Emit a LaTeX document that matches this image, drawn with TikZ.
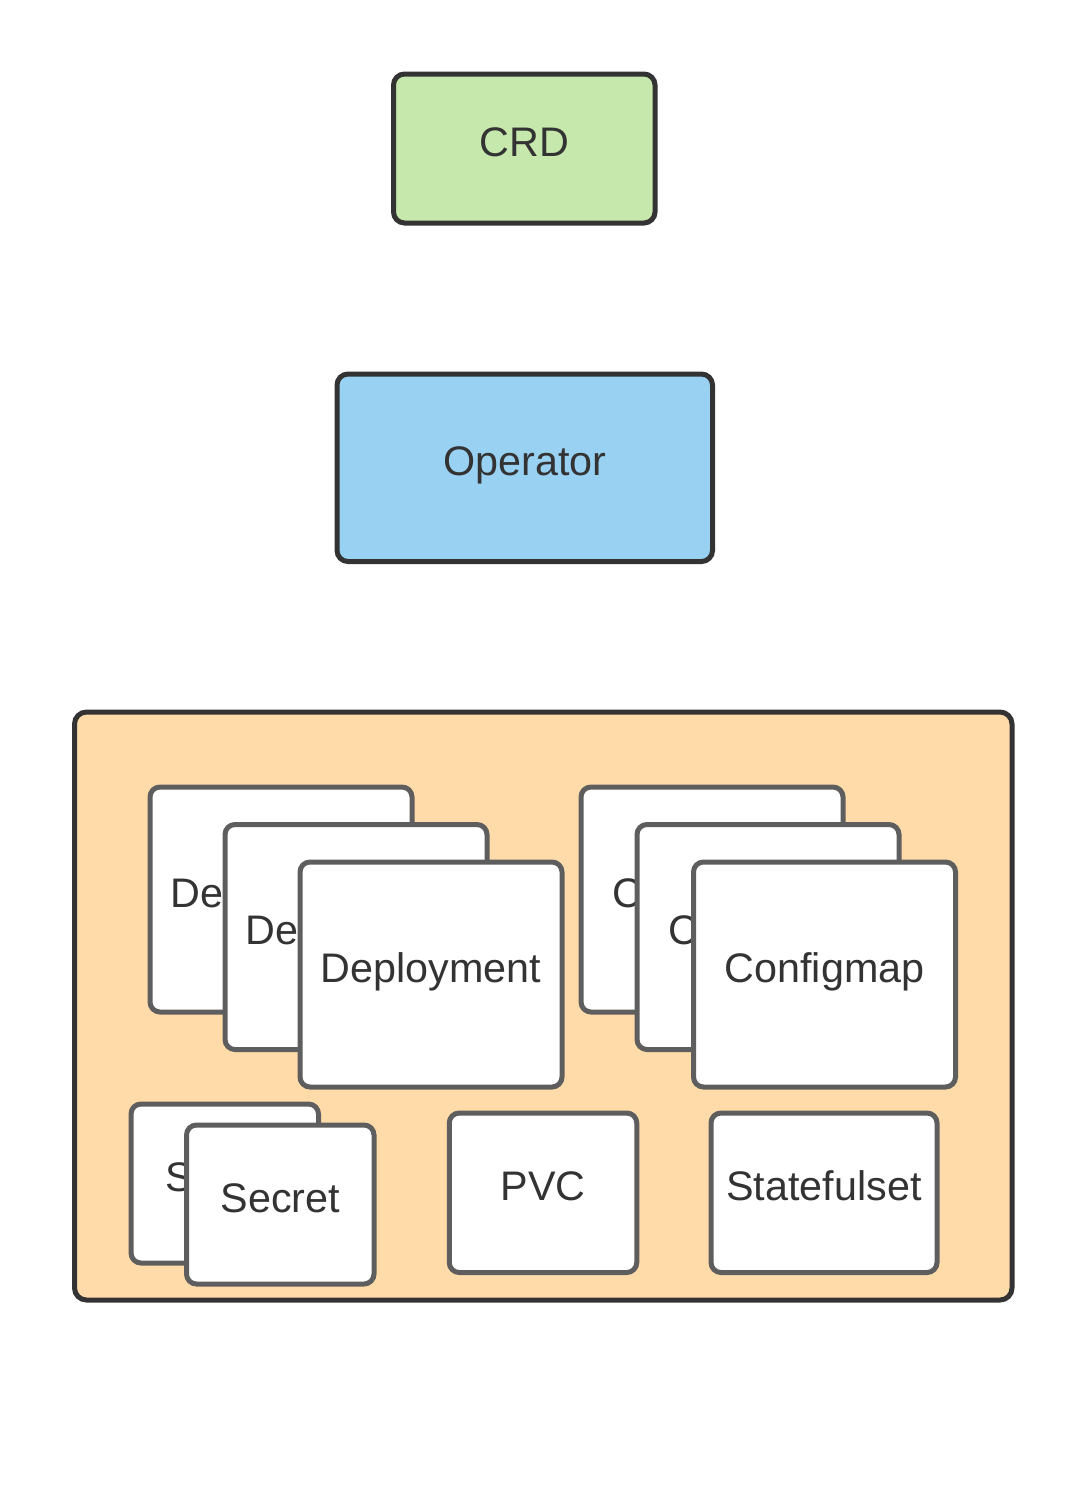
\documentclass[tikz,border=0pt]{standalone}
\usepackage{fontspec}
\setmainfont{Liberation Sans}
\definecolor{ink}{HTML}{333333}
\definecolor{cardline}{HTML}{5E5E5E}
\definecolor{crdfill}{HTML}{C7E8AC}
\definecolor{opfill}{HTML}{99D1F2}
\definecolor{nsfill}{HTML}{FFDBA9}
\begin{document}
\begin{tikzpicture}[x=1pt,y=-1pt,
  box/.style={draw=ink, line width=5pt, rounded corners=11pt, inner sep=0pt,
    font=\fontsize{41.3}{48}\selectfont, text=ink, text height=25pt, text depth=10pt},
  card/.style={box, draw=cardline, fill=white, rounded corners=10pt},
  bigcard/.style={card, minimum width=262pt, minimum height=225pt},
  smallcard/.style={card, minimum width=187.5pt, minimum height=159pt}]
\path[use as bounding box, fill=white] (0,0) rectangle (1088,1491);
\node[box, fill=crdfill, minimum width=261.5pt, minimum height=149pt] (crd) at (524.25,148.5) {CRD};
\node[box, fill=opfill, minimum width=375.5pt, minimum height=187.5pt] (op) at (524.75,467.75) {Operator};
\node[box, fill=nsfill, minimum width=937.5pt, minimum height=588pt, rounded corners=12pt] (ns) at (543.25,1006) {};
\node[bigcard] (d1) at (281,899.5) {Deployment};
\node[bigcard] (d2) at (356,937) {Deployment};
\node[bigcard] (d3) at (431,974.5) {Deployment};
\node[bigcard] (c1) at (712,899.5) {Configmap};
\node[bigcard] (c2) at (768,937) {Configmap};
\node[bigcard] (c3) at (824.5,974.5) {Configmap};
\node[smallcard] (s1) at (224.75,1183.5) {Secret};
\node[smallcard] (s2) at (280.25,1204.5) {Secret};
\node[smallcard, minimum height=159.5pt] (pvc) at (543,1192.75) {PVC};
\node[card, minimum width=226pt, minimum height=159.5pt] (sts) at (824,1192.75) {Statefulset};
\end{tikzpicture}
\end{document}
